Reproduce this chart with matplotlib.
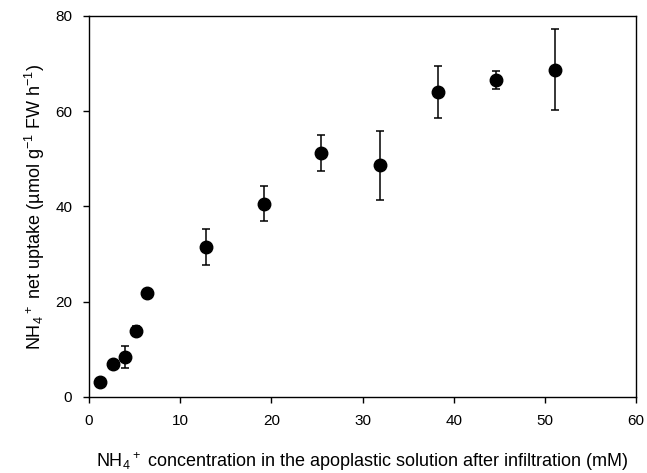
import matplotlib
matplotlib.use("Agg")
import matplotlib.pyplot as plt

plt.rcParams['font.family'] = ['Liberation Sans', 'DejaVu Sans']
plt.rcParams['mathtext.default'] = 'regular'

# apoplastic NH4+ concentration (mM) and net uptake (umol g-1 FW h-1)
conc = [1.2, 2.6, 3.9, 5.1, 6.4, 12.8, 19.2, 25.5, 31.9, 38.3, 44.6, 51.1]
uptake = [3.2, 6.9, 8.4, 13.9, 21.9, 31.5, 40.6, 51.2, 48.7, 64.0, 66.5, 68.7]
err_lo = [0.5, 0.5, 2.3, 1.1, 0.5, 3.8, 3.6, 3.7, 7.3, 5.4, 1.8, 8.5]
err_hi = [0.5, 0.5, 2.3, 1.1, 0.5, 3.8, 3.7, 3.8, 7.1, 5.5, 1.9, 8.5]

fig = plt.figure(figsize=(6.47, 4.73), dpi=100)
ax = fig.add_axes([0.1376, 0.1607, 0.8454, 0.8055])

ax.errorbar(conc, uptake, yerr=[err_lo, err_hi], fmt='o', color='black',
            markersize=9, ecolor='black', elinewidth=1.1, capsize=3, capthick=1.1)

ax.set_xlim(0, 60)
ax.set_ylim(0, 80)
ax.set_xticks(range(0, 61, 10))
ax.set_yticks(range(0, 81, 20))
ax.tick_params(direction='out', length=4, width=1, labelsize=11, pad=8)
for s in ax.spines.values():
    s.set_linewidth(1)

ax.set_xlabel(r'NH$_4$$^+$ concentration in the apoplastic solution after infiltration (mM)',
              fontsize=13, labelpad=16)
ax.set_ylabel(r'NH$_4$$^+$ net uptake (µmol g$^{-1}$ FW h$^{-1}$)', fontsize=13, labelpad=6)

fig.savefig('out.png', dpi=100)
